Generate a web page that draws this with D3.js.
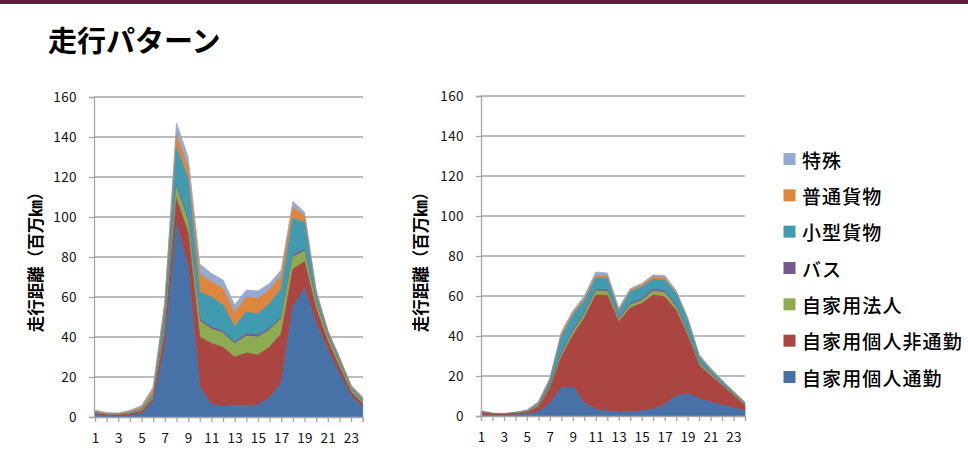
<!DOCTYPE html>
<html>
<head>
<meta charset="utf-8">
<script src="https://cdn.jsdelivr.net/npm/d3@7"></script>
<style>
html,body{margin:0;padding:0;background:#fff;}
svg{display:block;}
text{font-family:"Noto Sans CJK JP","Noto Sans",sans-serif;}
</style>
</head>
<body>
<svg id="chart" width="968" height="462"></svg>
<script>
// ---- data ----
const hours = [1,2,3,4,5,6,7,8,9,10,11,12,13,14,15,16,17,18,19,20,21,22,23,24];
const xTickLabels = ["1","3","5","7","9","11","13","15","17","19","21","23"];
const yTicks = [0,20,40,60,80,100,120,140,160];
const seriesNames = ["自家用個人通勤","自家用個人非通勤","自家用法人","バス","小型貨物","普通貨物","特殊"];
const seriesColors = ["#4672a8","#ab4542","#8dab51","#735a91","#409bb1","#de853e","#94aad1"];
const yAxisTitle = "走行距離（百万㎞）";
const chartTitle = "走行パターン";

// left chart
const leftCommute    = [1.2,0.6,0.5,0.8,1.8,7.5,35,97,75,15,6.3,5.2,5.7,5.8,6,9.7,16.8,55,64.3,47,33.5,21.8,10.5,5];
const leftNonCommute = [0.6,0.4,0.4,0.7,1.1,1.5,7,12,17,25,30.5,29.6,24.3,26.2,25,25.3,24.7,18.8,13.4,7,4.5,3.2,2,1.5];
const leftCorporate  = [0.2,0.1,0.1,0.2,0.3,0.8,3,6,6,8,7.2,7.2,6.5,8.5,9,8.5,7.8,6.2,5.3,3,2,1.8,1,0.8];
const leftBus        = [0.1,0.1,0.1,0.1,0.1,0.2,0.5,1,1,0.8,1,0.7,0.8,1,1,0.8,0.7,1,0.8,0.5,0.3,0.2,0.2,0.2];
const leftSmallTruck = [0.3,0.2,0.2,0.4,0.7,1.5,7.5,19,20,13.7,15,13.3,7.9,11,10.5,12.5,14,18.3,13.4,3.5,1.7,1.8,1.1,1.3];
const leftTruck      = [0.6,0.4,0.4,0.6,1,2,3,6,6,9,7.5,8.3,6.8,7.5,7.8,6.7,6.5,5.5,3.3,1.5,1,0.7,0.7,0.8];
const leftSpecial    = [0.4,0.4,0.3,0.5,0.8,1.5,2,6,5,5,4.3,4.2,4,3.5,3.7,3.3,3,2.9,2,1,0.5,0.5,0.5,0.4];

// right chart
const rightCommute    = [0.5,0.3,0.3,0.5,0.8,2,6.2,14,14.5,6.5,3.4,2.4,2,2.2,2.5,3.5,5.7,10,11,8.7,7,5.3,4.2,2.5];
const rightNonCommute = [1.3,0.7,0.5,0.7,1,2.5,7.5,15.5,25.8,42.5,57.1,57.9,45,51.8,53.7,57,53.8,42.8,29.3,16.6,13.3,10,6.1,2.8];
const rightCorporate  = [0.1,0.1,0.1,0.15,0.2,0.5,0.8,1.3,1.7,1.8,2,2,1.2,1.5,1.6,2,2.2,1.7,1.2,0.9,0.7,0.5,0.4,0.3];
const rightBus        = [0.1,0.05,0.05,0.05,0.1,0.2,0.5,0.7,0.8,0.7,0.8,0.7,0.6,0.7,0.8,1,0.9,0.7,0.5,0.4,0.3,0.2,0.2,0.1];
const rightSmallTruck = [0.1,0.05,0.05,0.2,0.4,0.8,2.5,8,7.5,6,5.7,5.8,3.2,5.8,5.9,4.8,5.4,6,5.8,2.9,1.7,1.2,0.9,0.6];
const rightTruck      = [0.2,0.1,0.1,0.1,0.2,0.5,0.8,1.5,1.2,1.3,1.3,1.2,1,0.8,1,1.3,1.3,0.8,0.7,0.7,0.6,0.4,0.3,0.3];
const rightSpecial    = [0.3,0.2,0.2,0.3,0.3,0.7,0.7,1,1,1.2,1.7,1.5,1,0.9,0.8,0.9,1,0.8,0.8,0.6,0.4,0.4,0.3,0.4];

const leftSeries  = [leftCommute,leftNonCommute,leftCorporate,leftBus,leftSmallTruck,leftTruck,leftSpecial];
const rightSeries = [rightCommute,rightNonCommute,rightCorporate,rightBus,rightSmallTruck,rightTruck,rightSpecial];

// ---- drawing ----
const svg = d3.select("#chart");

svg.append("rect").attr("x",0).attr("y",0).attr("width",968).attr("height",4).attr("fill","#5e1b3b");

svg.append("text").attr("x",48).attr("y",52)
  .attr("font-size",29).attr("font-weight","bold").attr("fill","#000")
  .text(chartTitle);

const tickFont = "'DejaVu Sans',sans-serif";

function drawChart(series, o){
  const g = svg.append("g");
  const rows = hours.map((h,i)=>{
    const r = {hour:h};
    series.forEach((s,k)=>{ r[k]=s[i]; });
    return r;
  });
  const keys = series.map((s,k)=>k);
  const stacked = d3.stack().keys(keys)(rows);

  const x = d3.scaleLinear().domain([1,24]).range([o.x0,o.x1]);
  const y = d3.scaleLinear().domain([0,160]).range([o.yb,o.yt]);

  g.selectAll("line.grid").data(yTicks.filter(t=>t>0)).join("line")
    .attr("x1",o.ax).attr("x2",o.gx1)
    .attr("y1",d=>y(d)).attr("y2",d=>y(d))
    .attr("stroke","#a6a6a6").attr("stroke-width",1.3);

  const area = d3.area()
    .x(d=>x(d.data.hour))
    .y0(d=>y(d[0]))
    .y1(d=>y(d[1]));
  g.selectAll("path.layer").data(stacked.slice().reverse()).join("path")
    .attr("d",area)
    .attr("fill",d=>seriesColors[d.key])
    .attr("stroke",d=>seriesColors[d.key])
    .attr("stroke-width",0.8)
    .attr("stroke-linejoin","round");

  const yAxis = d3.axisLeft(y).tickValues(yTicks).tickSize(5).tickPadding(12);
  const ya = g.append("g").attr("transform",`translate(${o.ax},0)`).call(yAxis);
  ya.select(".domain").attr("stroke","#a6a6a6").attr("stroke-width",1.3);
  ya.selectAll(".tick line").attr("stroke","#a6a6a6").attr("stroke-width",1.3);
  ya.selectAll(".tick text").attr("font-size",13.5).attr("fill","#111")
    .attr("font-family",tickFont).attr("letter-spacing","0.4px");

  const xAxis = d3.axisBottom(x).tickValues(hours).tickSize(5).tickPadding(11)
    .tickFormat(d=> xTickLabels.includes(String(d)) ? String(d) : "");
  const xa = g.append("g").attr("transform",`translate(0,${o.yb})`).call(xAxis);
  xa.select(".domain").attr("stroke","#a6a6a6").attr("stroke-width",1.3);
  xa.selectAll(".tick line").attr("stroke","#a6a6a6").attr("stroke-width",1.3);
  xa.selectAll(".tick text").attr("font-size",13.5).attr("fill","#111")
    .attr("font-family",tickFont).attr("letter-spacing","0.2px");

  g.append("text")
    .attr("transform",`translate(${o.tx},${o.ty}) rotate(-90)`)
    .attr("text-anchor","middle").attr("dominant-baseline","central")
    .attr("font-size",16.5).attr("font-weight","bold").attr("fill","#000")
    .text(yAxisTitle);
}

drawChart(leftSeries,  {x0:95, x1:362.7, ax:94, gx1:363, yb:417, yt:97, tx:35, ty:258});
drawChart(rightSeries, {x0:481, x1:745, ax:481, gx1:745, yb:416, yt:96, tx:420, ty:258});

// legend
const legendOrder = [6,5,4,3,2,1,0];
const legend = svg.append("g");
const ly = d3.scaleLinear().domain([0,6]).range([159,377]);
legendOrder.forEach((k,i)=>{
  legend.append("rect").attr("x",783.5).attr("y",ly(i)-6).attr("width",12).attr("height",12)
    .attr("fill",seriesColors[k]);
  legend.append("text").attr("x",802).attr("y",ly(i)).attr("dominant-baseline","central")
    .attr("font-size",19).attr("font-weight",500).attr("letter-spacing","1.1px").attr("fill","#000").text(seriesNames[k]);
});
</script>
</body>
</html>
